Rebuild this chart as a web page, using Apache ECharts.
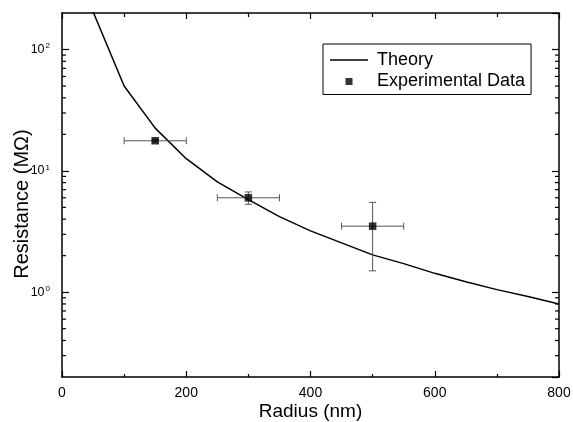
<!DOCTYPE html>
<html>
<head>
<meta charset="utf-8">
<script src="https://cdn.jsdelivr.net/npm/echarts@6/dist/echarts.min.js"></script>
<style>html,body{margin:0;padding:0;background:#fff}#c{width:573px;height:422px}</style>
</head>
<body>
<div id="c"></div>
<script>
// Theory curve
const theoryR = [50,100,150,200,250,300,350,400,450,500,550,600,650,700,750,800];
const theoryV = [205,50,22.5,12.6,8.1,5.8,4.2,3.2,2.55,2.03,1.72,1.43,1.22,1.05,0.92,0.80];
// Experimental data
const expR = [150,300,500];
const expV = [17.7,6.0,3.5];
const expXErr = [50,50,50];
const expYLow = [17.3,5.3,1.5];
const expYHigh = [18.1,6.7,5.5];
// Axis ticks
const xTicks = [0,200,400,600,800];
const yMinorTicks = [0.3,0.4,0.5,0.6,0.7,0.8,0.9,2,3,4,5,6,7,8,9,20,30,40,50,60,70,80,90];

const FONT = 'Liberation Sans, Arial, Helvetica, sans-serif';
const chart = echarts.init(document.getElementById('c'), null, {renderer:'canvas'});

const lineStyleAxis = {color:'#000', width:1.5};
const yAxisBase = {
  type:'log', logBase:10, min:0.2, max:200,
  axisLine:{show:true, onZero:false, lineStyle:lineStyleAxis},
  axisTick:{show:true, inside:true, length:7, lineStyle:{color:'#000', width:1.2}},
  splitLine:{show:false}
};
function isPow10(v){ const l = Math.log10(v); return Math.abs(l - Math.round(l)) < 1e-6; }

chart.setOption({
  animation:false,
  backgroundColor:'#fff',
  grid:{left:62, right:14, top:13, bottom:45, containLabel:false, outerBoundsMode:'none'},
  legend:{
    data:[
      {name:'Theory', icon:'path://M0,0h38v1.5h-38z'},
      {name:'Experimental Data', icon:'path://M0,0h1v1h-1z'}
    ],
    symbolKeepAspect:true,
    orient:'vertical', left:323, top:44,
    padding:[7,6,4,7], borderColor:'#000', borderWidth:1, borderRadius:0,
    itemWidth:38, itemHeight:7, itemGap:3.5,
    itemStyle:{color:'#000'},
    textStyle:{fontFamily:FONT, fontSize:18, color:'#000', lineHeight:18, padding:[0,0,0,4]}
  },
  xAxis:[{
    type:'value', min:0, max:800, interval:200, position:'bottom',
    name:'Radius (nm)', nameLocation:'middle', nameGap:25, nameMoveOverlap:false,
    nameTextStyle:{fontFamily:FONT, fontSize:19, color:'#000'},
    axisLine:{show:true, onZero:false, lineStyle:lineStyleAxis},
    axisTick:{show:true, inside:true, length:6, lineStyle:{color:'#000', width:1.2}},
    minorTick:{show:true, splitNumber:2, length:3, lineStyle:{color:'#000', width:1.2}},
    axisLabel:{fontFamily:FONT, fontSize:14, color:'#000', margin:9,
      formatter:function(v){ return xTicks.indexOf(v) >= 0 ? String(v) : ''; }},
    splitLine:{show:false}
  },{
    type:'value', min:0, max:800, interval:200, position:'top',
    axisLine:{show:true, onZero:false, lineStyle:lineStyleAxis},
    axisTick:{show:true, inside:true, length:6, lineStyle:{color:'#000', width:1.2}},
    minorTick:{show:true, splitNumber:2, length:4, lineStyle:{color:'#000', width:1.2}},
    axisLabel:{show:false}, splitLine:{show:false}
  }],
  yAxis:[Object.assign({}, yAxisBase, {
    position:'left',
    name:'Resistance (MΩ)', nameLocation:'middle', nameGap:30, nameMoveOverlap:false,
    nameTextStyle:{fontFamily:FONT, fontSize:20, color:'#000', padding:[0,18,0,0]},
    axisLabel:{show:true, margin:12, showMinLabel:false, showMaxLabel:false,
      formatter:function(v){
        if(!isPow10(v)) return '';
        return '{b|10}{s|' + Math.round(Math.log10(v)) + '}';
      },
      rich:{
        b:{fontFamily:FONT, fontSize:12.5, color:'#000'},
        s:{fontFamily:FONT, fontSize:8, color:'#000', padding:[0,0,7,1]}
      }
    }
  }), Object.assign({}, yAxisBase, {
    position:'right', axisLabel:{show:false}
  })],
  series:[
    {
      type:'custom', name:'minorY', xAxisIndex:0, yAxisIndex:0, silent:true, z:5,
      data: yMinorTicks.map(v => [0, v]),
      renderItem:function(params, api){
        const v = api.value(1);
        const pl = api.coord([0, v]);
        const pr = api.coord([800, v]);
        const st = {stroke:'#000', lineWidth:1.2};
        return {type:'group', children:[
          {type:'line', shape:{x1:pl[0], y1:pl[1], x2:pl[0]+4, y2:pl[1]}, style:st},
          {type:'line', shape:{x1:pr[0], y1:pr[1], x2:pr[0]-4, y2:pr[1]}, style:st}
        ]};
      }
    },
    {
      type:'line', name:'Theory', xAxisIndex:0, yAxisIndex:0,
      data: theoryR.map((r,i) => [r, theoryV[i]]),
      symbol:'none', showSymbol:false, smooth:false, clip:true,
      lineStyle:{color:'#000', width:1.5}, itemStyle:{color:'#000'}, z:3
    },
    {
      type:'custom', name:'errors', xAxisIndex:0, yAxisIndex:0, silent:true, z:4,
      data: expR.map((r,i) => [r, expV[i], expXErr[i], expYLow[i], expYHigh[i]]),
      renderItem:function(params, api){
        const x = api.value(0), y = api.value(1), xe = api.value(2), lo = api.value(3), hi = api.value(4);
        const l = api.coord([x - xe, y]), r = api.coord([x + xe, y]);
        const pl = api.coord([x, lo]), ph = api.coord([x, hi]);
        const cap = 3.5;
        const st = {stroke:'#555', lineWidth:1, fill:null};
        return {type:'group', children:[
          {type:'line', shape:{x1:l[0], y1:l[1], x2:r[0], y2:r[1]}, style:st},
          {type:'line', shape:{x1:l[0], y1:l[1]-cap, x2:l[0], y2:l[1]+cap}, style:st},
          {type:'line', shape:{x1:r[0], y1:r[1]-cap, x2:r[0], y2:r[1]+cap}, style:st},
          {type:'line', shape:{x1:pl[0], y1:pl[1], x2:ph[0], y2:ph[1]}, style:st},
          {type:'line', shape:{x1:pl[0]-cap, y1:pl[1], x2:pl[0]+cap, y2:pl[1]}, style:st},
          {type:'line', shape:{x1:ph[0]-cap, y1:ph[1], x2:ph[0]+cap, y2:ph[1]}, style:st}
        ]};
      }
    },
    {
      type:'scatter', name:'Experimental Data', xAxisIndex:0, yAxisIndex:0,
      data: expR.map((r,i) => [r, expV[i]]),
      symbol:'rect', symbolSize:7.5, itemStyle:{color:'#000'}, z:6
    }
  ]
});
</script>
</body>
</html>
